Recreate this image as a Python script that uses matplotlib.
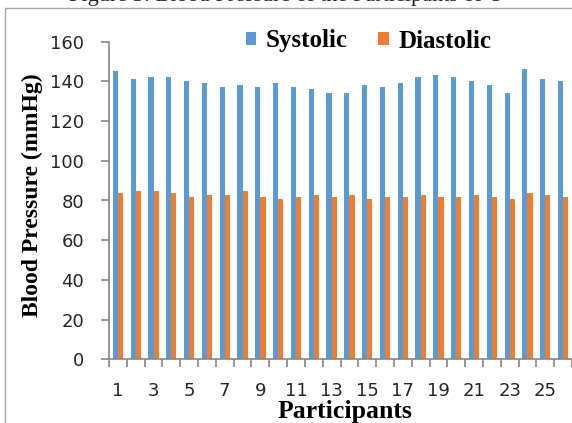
import matplotlib
matplotlib.use("Agg")
import matplotlib.pyplot as plt
from matplotlib.patches import Patch, Rectangle
import numpy as np

participants = list(range(1, 27))
systolic = [145, 141, 142, 142, 140, 139, 137, 138, 137, 139, 137, 136, 134,
            134, 138, 137, 139, 142, 143, 142, 140, 138, 134, 146, 141, 140]
diastolic = [84, 85, 85, 84, 82, 83, 83, 85, 82, 81, 82, 83, 82,
             83, 81, 82, 82, 83, 82, 82, 83, 82, 81, 84, 83, 82]
y_ticks = [0, 20, 40, 60, 80, 100, 120, 140, 160]
x_tick_labels = [str(i) for i in range(1, 26, 2)]

W, H = 572, 423
fig = plt.figure(figsize=(W / 100, H / 100), dpi=100)

# outer chart frame
fig.patches.append(Rectangle((5 / W, -0.1), 1.2, 1 - 8 / H + 0.1,
                             transform=fig.transFigure, fill=False,
                             edgecolor="#a6a6a6", linewidth=1.0))

# clipped caption at the very top
fig.text(0.5, 1 - 0.5 / H, "Figure 3: Blood Pressure of the Participants of U",
         ha="center", va="baseline", family="Liberation Serif",
         fontsize=16, color="#222222")

left, right = 109 / W, 1.0
bottom, top = 1 - 359.3 / H, 1 - 41.7 / H
ax = fig.add_axes([left, bottom, right - left, top - bottom])

x = np.array(participants, dtype=float)
bw = 0.29
ax.bar(x - bw / 2, systolic, width=bw, color="#5B9BD5", label="Systolic", zorder=2)
ax.bar(x + bw / 2, diastolic, width=bw, color="#ED7D31", label="Diastolic", zorder=2)

x_max = 0.5 + (W - 109) / 18.125
ax.set_xlim(0.5, x_max)
ax.set_ylim(0, 160)

for s in ["top", "right"]:
    ax.spines[s].set_visible(False)
for s in ["left", "bottom"]:
    ax.spines[s].set_color("#868686")
    ax.spines[s].set_linewidth(1.2)

ax.set_yticks(y_ticks)
ax.set_yticklabels([str(v) for v in y_ticks])
ax.tick_params(axis="y", direction="out", length=6, width=1.2, color="#868686",
               pad=12, labelsize=13, labelcolor="#262626")

ax.set_xticks(np.arange(1, 26, 2))
ax.set_xticklabels(x_tick_labels)
ax.set_xticks(np.arange(0.5, 27, 1.0), minor=True)
ax.tick_params(axis="x", which="major", length=0, pad=16, labelsize=13,
               labelcolor="#262626")
ax.tick_params(axis="x", which="minor", direction="out", length=6, width=1.2,
               color="#868686")
for lab in ax.get_xticklabels() + ax.get_yticklabels():
    lab.set_family("DejaVu Sans")

fig.text(345 / W, 1 - 417.5 / H, "Participants", ha="center", va="baseline",
         family="Liberation Serif", fontweight="bold", fontsize=18.5, color="black")
fig.text(32 / W, 1 - 195 / H, "Blood Pressure (mmHg)", ha="center", va="center",
         rotation=90, family="Liberation Serif", fontweight="bold", fontsize=17,
         color="black")

handles = [Patch(facecolor="#5B9BD5", edgecolor="none"),
           Patch(facecolor="#ED7D31", edgecolor="none")]
fig.legend(handles, ["Systolic", "Diastolic"], loc="center",
           bbox_to_anchor=((242 + 495) / 2 / W, 1 - 41 / H), ncol=2, frameon=False,
           prop={"family": "Liberation Serif", "weight": "bold", "size": 18},
           handlelength=0.42, handleheight=0.42, handletextpad=0.4,
           columnspacing=1.2, borderpad=0, borderaxespad=0)

fig.savefig("out.png", dpi=100)
